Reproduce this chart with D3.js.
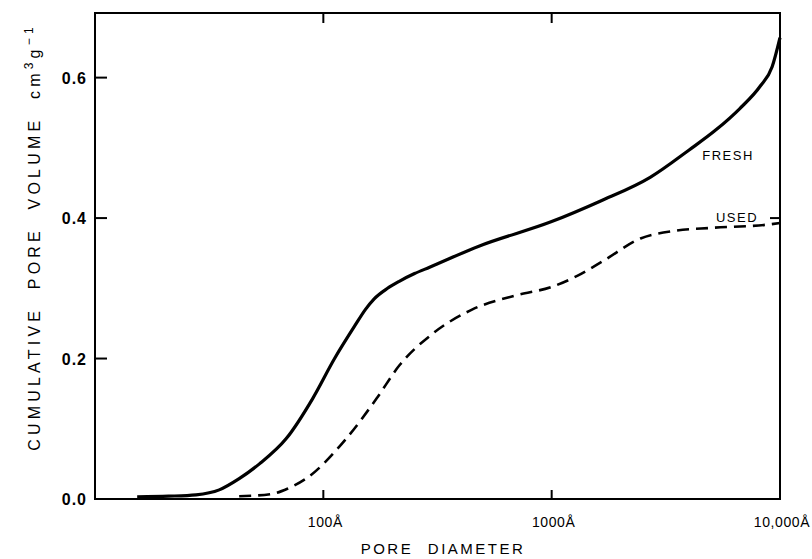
<!DOCTYPE html>
<html>
<head>
<meta charset="utf-8">
<script src="https://cdn.jsdelivr.net/npm/d3@7"></script>
<style>
  html, body { margin: 0; padding: 0; background: #fff; }
  svg { display: block; }
  text { fill: #000; }
</style>
</head>
<body>
<svg id="chart" width="812" height="559"></svg>
<script>
// ---- data ----
const freshDiameter = [15.3, 21, 27.7, 35, 42.8, 52.5, 68.8, 89.8, 112, 137, 153, 167, 191, 215, 251, 292, 480, 1000, 1630, 2700, 4000, 5260, 6670, 8200, 9230, 10000];
const freshVolume   = [0.003, 0.004, 0.006, 0.013, 0.029, 0.05, 0.086, 0.143, 0.20, 0.246, 0.27, 0.285, 0.3, 0.31, 0.321, 0.33, 0.36, 0.395, 0.424, 0.458, 0.497, 0.526, 0.556, 0.588, 0.615, 0.657];
const usedDiameter  = [42.8, 59, 70, 84, 126, 171, 215, 300, 450, 700, 1000, 1300, 1700, 2450, 3500, 5000, 9000, 10000];
const usedVolume    = [0.004, 0.007, 0.015, 0.029, 0.086, 0.143, 0.19, 0.235, 0.27, 0.29, 0.302, 0.318, 0.34, 0.371, 0.382, 0.386, 0.391, 0.393];
const xTickValues = [100, 1000, 10000];
const xTickLabels = ["100Å", "1000Å", "10,000Å"];
const yTickValues = [0.0, 0.2, 0.4, 0.6];
const yTickLabels = ["0.0", "0.2", "0.4", "0.6"];

const svg = d3.select("#chart");
const L = 95, R = 780, T = 13, B = 499;

const x = d3.scaleLog().domain([10, 10000]).range([L, R]);
const y = d3.scaleLinear().domain([0, 0.692]).range([B, T]);

// frame
svg.append("rect")
  .attr("x", L).attr("y", T).attr("width", R - L).attr("height", B - T)
  .attr("fill", "none").attr("stroke", "#000").attr("stroke-width", 2);

// x ticks (inward, bottom and top) at 100, 1000
const innerX = xTickValues.filter(v => v < 10000);
svg.selectAll(".xtb").data(innerX).enter().append("line")
  .attr("x1", d => x(d)).attr("x2", d => x(d))
  .attr("y1", B).attr("y2", B - 9)
  .attr("stroke", "#000").attr("stroke-width", 2);
svg.selectAll(".xtt").data(innerX).enter().append("line")
  .attr("x1", d => x(d)).attr("x2", d => x(d))
  .attr("y1", T).attr("y2", T + 10)
  .attr("stroke", "#000").attr("stroke-width", 2);

// y ticks (inward, left; right at 0.4)
const innerY = yTickValues.filter(v => v > 0);
svg.selectAll(".ytl").data(innerY).enter().append("line")
  .attr("x1", L).attr("x2", L + 12)
  .attr("y1", d => y(d)).attr("y2", d => y(d))
  .attr("stroke", "#000").attr("stroke-width", 2);
svg.selectAll(".ytr").data([0.4]).enter().append("line")
  .attr("x1", R).attr("x2", R - 10)
  .attr("y1", d => y(d)).attr("y2", d => y(d))
  .attr("stroke", "#000").attr("stroke-width", 2);

// x tick labels
svg.selectAll(".xl").data(xTickValues).enter().append("text")
  .attr("x", (d) => x(d) + 2)
  .attr("y", B + 28)
  .attr("text-anchor", "middle")
  .attr("font-family", "Liberation Sans, Arial, sans-serif")
  .attr("font-size", 14)
  .attr("letter-spacing", 0.6)
  .text((d, i) => xTickLabels[i]);

// y tick labels
svg.selectAll(".yl").data(yTickValues).enter().append("text")
  .attr("x", L - 8)
  .attr("y", d => y(d) + 6)
  .attr("text-anchor", "end")
  .attr("font-family", "Liberation Sans, Arial, sans-serif")
  .attr("font-weight", "bold")
  .attr("font-size", 16)
  .attr("letter-spacing", 1)
  .text((d, i) => yTickLabels[i]);

// axis titles
svg.append("text")
  .attr("x", 443).attr("y", 554)
  .attr("text-anchor", "middle")
  .attr("font-family", "Liberation Sans, Arial, sans-serif")
  .attr("font-size", 15)
  .attr("letter-spacing", 2.5)
  .attr("word-spacing", 8)
  .text("PORE DIAMETER");

const yt = svg.append("text")
  .attr("transform", "translate(40,237) rotate(-90)")
  .attr("text-anchor", "middle")
  .attr("font-family", "Liberation Sans, Arial, sans-serif")
  .attr("font-size", 16)
  .attr("letter-spacing", 4.2)
  .attr("word-spacing", 9);
yt.append("tspan").text("CUMULATIVE PORE VOLUME cm");
yt.append("tspan").attr("font-size", 12).attr("dy", -7).text("3");
yt.append("tspan").attr("dy", 7).text("g");
yt.append("tspan").attr("font-size", 12).attr("dy", -7).text("−1");

// curves
const line = d3.line().x(d => x(d[0])).y(d => y(d[1])).curve(d3.curveMonotoneX);
const fresh = freshDiameter.map((d, i) => [d, freshVolume[i]]);
const used = usedDiameter.map((d, i) => [d, usedVolume[i]]);

svg.append("path").datum(fresh).attr("d", line)
  .attr("fill", "none").attr("stroke", "#000").attr("stroke-width", 3.2);
svg.append("path").datum(used).attr("d", line)
  .attr("fill", "none").attr("stroke", "#000").attr("stroke-width", 2.6)
  .attr("stroke-dasharray", "12,7");

// series labels
svg.append("text").attr("x", 728).attr("y", 160)
  .attr("text-anchor", "middle")
  .attr("font-family", "Liberation Sans, Arial, sans-serif")
  .attr("font-size", 13).attr("letter-spacing", 1.5)
  .text("FRESH");
svg.append("text").attr("x", 737).attr("y", 222)
  .attr("text-anchor", "middle")
  .attr("font-family", "Liberation Sans, Arial, sans-serif")
  .attr("font-size", 13).attr("letter-spacing", 1.5)
  .text("USED");
</script>
</body>
</html>
